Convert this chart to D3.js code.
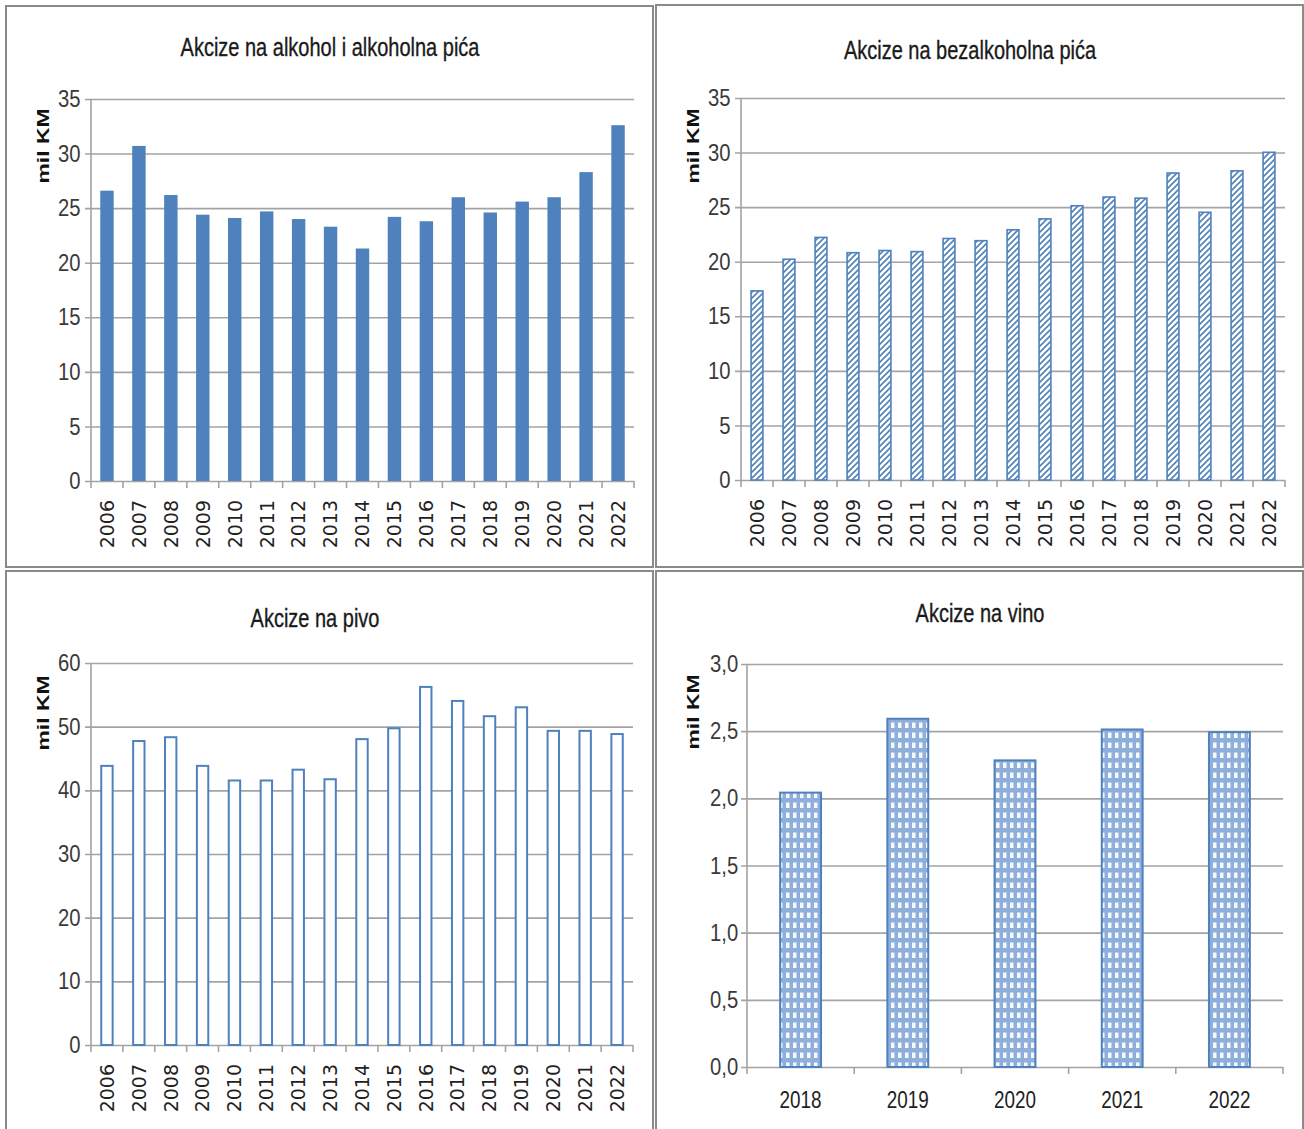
<!DOCTYPE html>
<html>
<head>
<meta charset="utf-8">
<script src="https://cdn.jsdelivr.net/npm/d3@7"></script>
<style>
  body { margin: 0; background: #fff; }
  svg { display: block; }
</style>
</head>
<body>
<script>
// data
var years = ["2006", "2007", "2008", "2009", "2010", "2011", "2012", "2013", "2014",
             "2015", "2016", "2017", "2018", "2019", "2020", "2021", "2022"];
var alkoholValues = [26.6, 30.7, 26.2, 24.4, 24.1, 24.7, 24.0, 23.3, 21.3,
                     24.2, 23.8, 26.0, 24.6, 25.6, 26.0, 28.3, 32.6];
var bezalkoholnaValues = [17.4, 20.3, 22.3, 20.9, 21.1, 21.0, 22.2, 22.0, 23.0,
                          24.0, 25.2, 26.0, 25.9, 28.2, 24.6, 28.4, 30.1];
var pivoValues = [44.0, 47.9, 48.5, 44.0, 41.7, 41.7, 43.4, 41.9, 48.2,
                  49.9, 56.4, 54.2, 51.8, 53.2, 49.5, 49.5, 49.0];
var vinoYears = ["2018", "2019", "2020", "2021", "2022"];
var vinoValues = [2.05, 2.60, 2.29, 2.52, 2.50];

var ticks35 = [0, 5, 10, 15, 20, 25, 30, 35];
var ticks60 = [0, 10, 20, 30, 40, 50, 60];
var ticksVino = [0, 0.5, 1.0, 1.5, 2.0, 2.5, 3.0];

var titles = ["Akcize na alkohol i alkoholna pića", "Akcize na bezalkoholna pića",
              "Akcize na pivo", "Akcize na vino"];
var unitLabel = "mil KM";

var blue = "#4f81bd";
var gridColor = "#a3a3a3";

var svg = d3.select("body").append("svg")
            .attr("width", 1304)
            .attr("height", 1129);

var defs = svg.append("defs");

// diagonal hatch for the soft drinks chart
var hatch = defs.append("pattern")
    .attr("id", "hatch")
    .attr("patternUnits", "userSpaceOnUse")
    .attr("width", 6)
    .attr("height", 6);
hatch.append("rect").attr("width", 6).attr("height", 6).attr("fill", "#fff");
hatch.append("path")
    .attr("d", "M0,6 L6,0 M-1.5,1.5 L1.5,-1.5 M4.5,7.5 L7.5,4.5")
    .attr("stroke", blue)
    .attr("stroke-width", 1.6);

// small grid pattern for the wine chart
var grid = defs.append("pattern")
    .attr("id", "smallgrid")
    .attr("patternUnits", "userSpaceOnUse")
    .attr("width", 7)
    .attr("height", 10);
grid.append("rect").attr("width", 7).attr("height", 10).attr("fill", "#8eafdc");
grid.append("rect").attr("x", 2).attr("y", 2.5).attr("width", 3.5).attr("height", 5.5)
    .attr("fill", "#f7f9fd");

function drawPanel(p) {
  var g = svg.append("g");

  g.append("rect")
   .attr("x", p.box[0]).attr("y", p.box[1])
   .attr("width", p.box[2]).attr("height", p.box[3])
   .attr("fill", "none")
   .attr("stroke", "#8a8a8a")
   .attr("stroke-width", 2);

  g.append("text")
   .attr("transform", "translate(" + p.titleX + "," + p.titleY + ") scale(0.8,1)")
   .attr("text-anchor", "middle")
   .attr("font-family", "'Liberation Sans', Arial, sans-serif")
   .attr("font-size", 25)
   .attr("fill", "#1a1a1a")
   .attr("stroke", "#1a1a1a")
   .attr("stroke-width", 0.35)
   .text(p.title);

  g.append("text")
   .attr("transform", "translate(" + p.unitX + "," + p.unitY + ") rotate(-90) scale(1.35,1)")
   .attr("text-anchor", "middle")
   .attr("dy", "0.35em")
   .attr("font-family", "'Liberation Sans', Arial, sans-serif")
   .attr("font-weight", "bold")
   .attr("font-size", 17)
   .attr("fill", "#111")
   .text(unitLabel);

  var x = d3.scaleBand()
            .domain(p.cats)
            .range([p.left, p.right])
            .paddingInner(p.pad)
            .paddingOuter(p.pad / 2);

  var y = d3.scaleLinear()
            .domain([0, p.max])
            .range([p.bottom, p.top]);

  // gridlines + tick labels
  var yAxis = d3.axisLeft(y)
                .tickValues(p.ticks)
                .tickSize(-(p.right - p.left + 6))
                .tickPadding(p.labelGap)
                .tickFormat(p.fmt);

  var ya = g.append("g")
            .attr("transform", "translate(" + (p.left - 6) + ",0)")
            .call(yAxis);
  ya.select(".domain").remove();
  ya.selectAll(".tick line")
    .attr("stroke", gridColor)
    .attr("stroke-width", 1.6);
  ya.selectAll(".tick text")
    .attr("transform", "scale(0.92,1.08)")
    .attr("font-family", "'Liberation Sans', Arial, sans-serif")
    .attr("font-size", 22)
    .attr("fill", "#3a3a3a");

  g.append("line")
   .attr("x1", p.left).attr("x2", p.left)
   .attr("y1", y(p.max)).attr("y2", y(0))
   .attr("stroke", gridColor)
   .attr("stroke-width", 1.6);

  // category separators below the axis
  var bounds = d3.range(p.cats.length + 1).map(function (i) { return p.left + i * x.step(); });
  g.selectAll("line.sep")
   .data(bounds)
   .join("line")
   .attr("class", "sep")
   .attr("x1", function (d) { return d; }).attr("x2", function (d) { return d; })
   .attr("y1", y(0)).attr("y2", y(0) + 7)
   .attr("stroke", gridColor)
   .attr("stroke-width", 1.6);

  g.selectAll("rect.bar")
   .data(p.values)
   .join("rect")
   .attr("class", "bar")
   .attr("x", function (d, i) { return x(p.cats[i]) + p.inset; })
   .attr("y", function (d) { return y(d) + p.inset; })
   .attr("width", x.bandwidth() - 2 * p.inset)
   .attr("height", function (d) { return Math.max(0, y(0) - y(d) - p.inset); })
   .attr("fill", p.fill)
   .attr("stroke", p.stroke)
   .attr("stroke-width", p.strokeWidth);

  if (p.rotate) {
    g.selectAll("text.cat")
     .data(p.cats)
     .join("text")
     .attr("class", "cat")
     .attr("transform", function (d) {
       return "translate(" + (x(d) + x.bandwidth() / 2) + "," + (y(0) + 19) + ") rotate(-90)";
     })
     .attr("text-anchor", "end")
     .attr("dy", "0.36em")
     .attr("font-family", "'DejaVu Sans', Verdana, sans-serif")
     .attr("font-size", 19)
     .attr("fill", "#222")
     .text(function (d) { return d; });
  } else {
    g.selectAll("text.cat")
     .data(p.cats)
     .join("text")
     .attr("class", "cat")
     .attr("transform", function (d) {
       return "translate(" + (x(d) + x.bandwidth() / 2) + "," + (y(0) + 41) + ") scale(0.9,1.1)";
     })
     .attr("text-anchor", "middle")
     .attr("font-family", "'Liberation Sans', Arial, sans-serif")
     .attr("font-size", 21)
     .attr("fill", "#222")
     .text(function (d) { return d; });
  }
}

var fmtInt = d3.format("d");
var fmtComma = function (d) { return d3.format(".1f")(d).replace(".", ","); };

drawPanel({
  box: [6, 6, 647, 561],
  title: titles[0], titleX: 330, titleY: 56,
  unitX: 43, unitY: 146,
  cats: years, values: alkoholValues,
  left: 91, right: 634, top: 99, bottom: 481,
  max: 35, ticks: ticks35, fmt: fmtInt, labelGap: 5,
  pad: 0.58, inset: 0, fill: blue, stroke: "none", strokeWidth: 0,
  rotate: true
});

drawPanel({
  box: [656, 5, 647, 562],
  title: titles[1], titleX: 970, titleY: 59,
  unitX: 693, unitY: 146,
  cats: years, values: bezalkoholnaValues,
  left: 741, right: 1285, top: 98, bottom: 480,
  max: 35, ticks: ticks35, fmt: fmtInt, labelGap: 5,
  pad: 0.58, inset: 0.8, fill: "url(#hatch)", stroke: blue, strokeWidth: 1.6,
  rotate: true
});

drawPanel({
  box: [6, 571, 647, 570],
  title: titles[2], titleX: 315, titleY: 627,
  unitX: 43, unitY: 713,
  cats: years, values: pivoValues,
  left: 91, right: 633, top: 663, bottom: 1045,
  max: 60, ticks: ticks60, fmt: fmtInt, labelGap: 5,
  pad: 0.58, inset: 1, fill: "#fff", stroke: blue, strokeWidth: 2,
  rotate: true
});

drawPanel({
  box: [656, 571, 647, 570],
  title: titles[3], titleX: 980, titleY: 622,
  unitX: 693, unitY: 712,
  cats: vinoYears, values: vinoValues,
  left: 747, right: 1283, top: 664, bottom: 1067,
  max: 3, ticks: ticksVino, fmt: fmtComma, labelGap: 3,
  pad: 0.6, inset: 1, fill: "url(#smallgrid)", stroke: blue, strokeWidth: 2,
  rotate: false
});
</script>
</body>
</html>
